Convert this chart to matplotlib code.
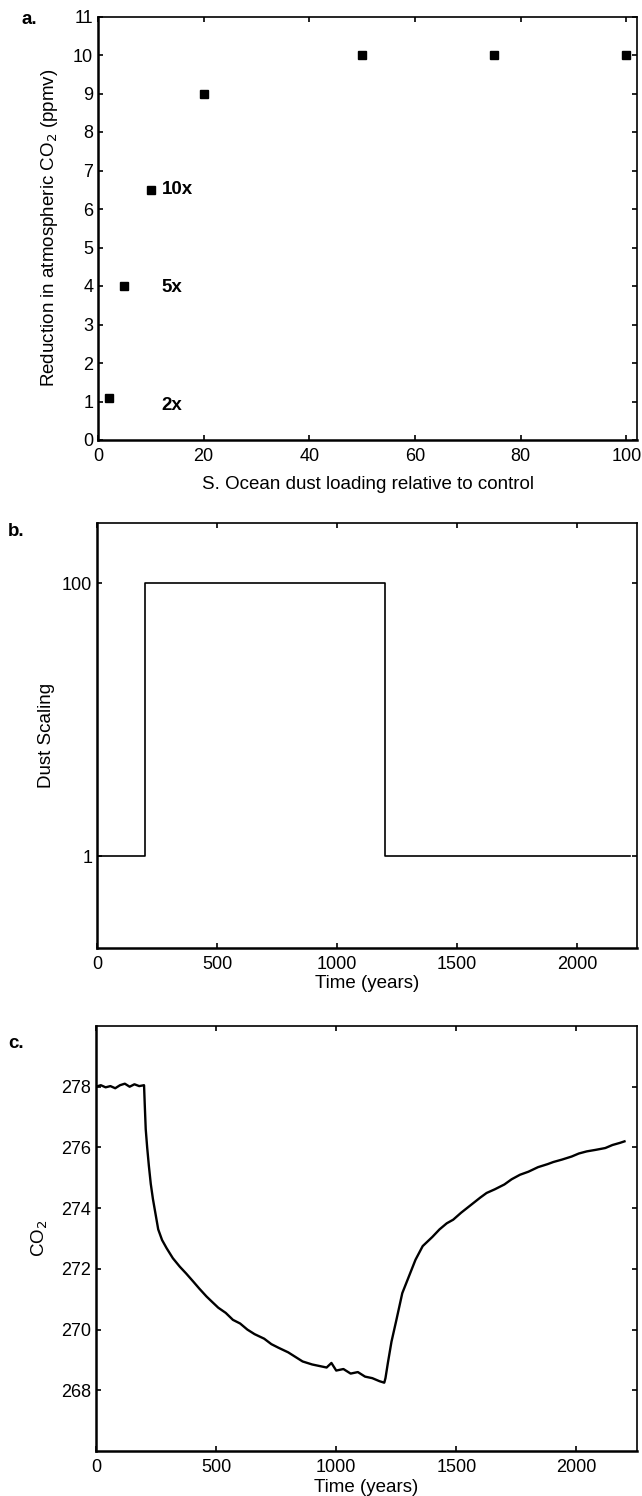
import numpy as np
import matplotlib
matplotlib.use("Agg")
import matplotlib.pyplot as plt

plt.rcParams['font.family'] = ['Liberation Sans', 'DejaVu Sans']
plt.rcParams['font.size'] = 13

# panel a: CO2 drawdown vs dust loading
dust_load = [2, 5, 10, 20, 50, 75, 100]
co2_drop = [1.1, 4.0, 6.5, 9.0, 10.0, 10.0, 10.0]
note_x = [12, 12, 12]
note_y = [6.5, 3.95, 0.9]
note_txt = ['10x', '5x', '2x']

# panel b: dust forcing
b_time = [0, 200, 200, 1200, 1200, 2220]
b_scale = [1, 1, 100, 100, 1, 1]

# panel c: CO2 response
c_time = [0, 20, 40, 60, 80, 100, 120, 140, 160, 180, 200, 203, 207, 213, 220, 228,
          237, 248, 259, 275, 294, 320, 349, 375, 405, 430, 460, 485, 509, 540, 570,
          600, 630, 660, 700, 730, 760, 800, 830, 860, 900, 930, 960, 980, 1000, 1030,
          1060, 1090, 1120, 1150, 1180, 1200, 1205, 1215, 1230, 1250, 1275, 1300,
          1330, 1360, 1400, 1430, 1460, 1487, 1520, 1560, 1600, 1626, 1660, 1700,
          1730, 1765, 1800, 1840, 1880, 1904, 1940, 1980, 2010, 2043, 2080, 2120,
          2150, 2181, 2200]
c_co2 = [278.0, 278.05, 277.98, 278.02, 277.95, 278.05, 278.1, 278.0, 278.08, 278.02,
         278.05, 277.4, 276.6, 276.0, 275.4, 274.8, 274.3, 273.8, 273.3, 272.95,
         272.68, 272.35, 272.07, 271.85, 271.58, 271.35, 271.09, 270.9, 270.72,
         270.55, 270.32, 270.2, 270.0, 269.85, 269.7, 269.52, 269.4, 269.25, 269.1,
         268.95, 268.85, 268.8, 268.75, 268.9, 268.65, 268.7, 268.55, 268.6, 268.45,
         268.4, 268.3, 268.25, 268.4, 268.9, 269.6, 270.3, 271.2, 271.7, 272.3,
         272.75, 273.05, 273.3, 273.5, 273.62, 273.85, 274.1, 274.35, 274.5, 274.62,
         274.78, 274.95, 275.1, 275.2, 275.35, 275.45, 275.52, 275.6, 275.7, 275.8,
         275.87, 275.92, 275.98, 276.08, 276.15, 276.2]

LAB = 13.5


def style(ax):
    ax.tick_params(direction='in', length=3.5, width=1.2, top=True, right=True,
                   labelsize=13)
    ax.tick_params(axis='x', pad=6)
    ax.tick_params(axis='y', pad=3.5)
    for s in ['left', 'bottom']:
        ax.spines[s].set_linewidth(1.8)
    for s in ['top', 'right']:
        ax.spines[s].set_linewidth(1.2)


def place_labels(ax, xl, yl):
    ax.xaxis.label.set_va('center')
    ax.yaxis.label.set_va('center')
    ax.xaxis.set_label_coords(0.5, xl)
    ax.yaxis.set_label_coords(yl, 0.5)


fig = plt.figure(figsize=(6.42, 14.96), dpi=100)
W, H = 642.0, 1496.0


def add_axes(l, r, t, b):
    return fig.add_axes([l / W, 1 - b / H, (r - l) / W, (b - t) / H])


# a.
ax1 = add_axes(98, 637, 16.5, 440)
ax1.plot(dust_load, co2_drop, 's', color='black', markersize=6)
for x, y, t in zip(note_x, note_y, note_txt):
    ax1.text(x, y, t, fontweight='bold', fontsize=13.5, va='center', ha='left')
ax1.set_xlim(0, 102)
ax1.set_ylim(0, 11)
ax1.set_xticks([0, 20, 40, 60, 80, 100])
ax1.set_yticks(range(0, 12))
ax1.set_xlabel('S. Ocean dust loading relative to control', fontsize=LAB)
ax1.set_ylabel('Reduction in atmospheric CO$_2$ (ppmv)', fontsize=LAB)
style(ax1)
place_labels(ax1, -0.106, -0.09)
fig.text(22 / W, 1 - 20 / H, 'a.', fontweight='bold', fontsize=13.5, va='center')

# b.
ax2 = add_axes(97, 637, 522.7, 947.7)
ax2.plot(b_time, b_scale, color='black', linewidth=1.2)
ax2.set_xlim(0, 2250)
ax2.set_ylim(-32.2, 122)
ax2.set_xticks([0, 500, 1000, 1500, 2000])
ax2.set_yticks([1, 100])
ax2.set_xlabel('Time (years)', fontsize=LAB)
ax2.set_ylabel('Dust Scaling', fontsize=LAB)
style(ax2)
place_labels(ax2, -0.084, -0.094)
fig.text(8 / W, 1 - 531 / H, 'b.', fontweight='bold', fontsize=13.5, va='center')

# c.
ax3 = add_axes(96, 636.5, 1026, 1451)
ax3.plot(c_time, c_co2, color='black', linewidth=1.7)
ax3.set_xlim(0, 2250)
ax3.set_ylim(266, 280)
ax3.set_xticks([0, 500, 1000, 1500, 2000])
ax3.set_yticks([268, 270, 272, 274, 276, 278])
ax3.set_xlabel('Time (years)', fontsize=LAB)
ax3.set_ylabel('CO$_2$', fontsize=LAB)
style(ax3)
place_labels(ax3, -0.087, -0.104)
fig.text(8 / W, 1 - 1044 / H, 'c.', fontweight='bold', fontsize=13.5, va='center')

fig.savefig('out.png', dpi=100)
